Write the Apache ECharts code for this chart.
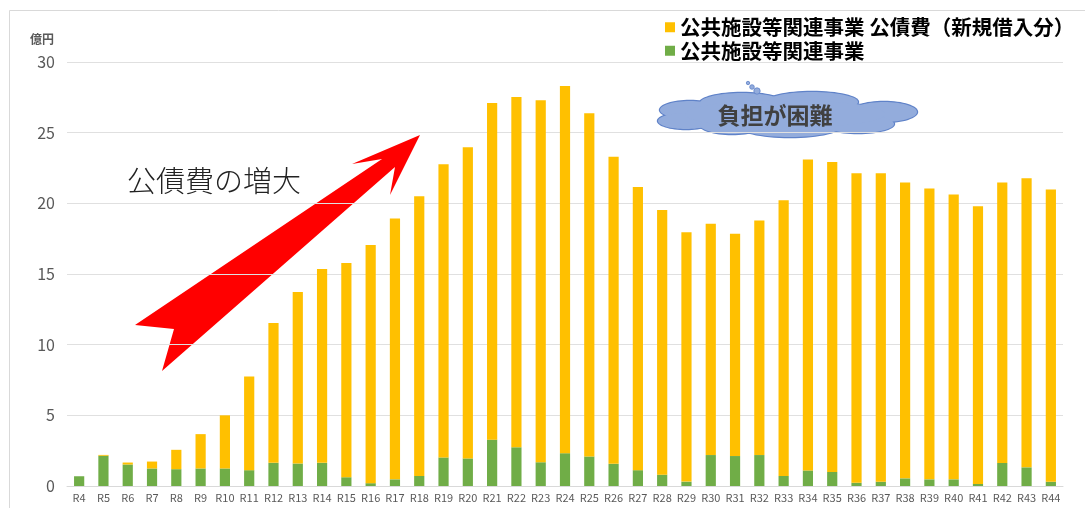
<!DOCTYPE html>
<html>
<head>
<meta charset="utf-8">
<script src="https://cdn.jsdelivr.net/npm/echarts@6/dist/echarts.min.js"></script>
<style>
html,body{margin:0;padding:0;background:#fff;}
#c{width:1085px;height:508px;}
</style>
</head>
<body>
<div id="c"></div>
<script>
const categories = ['R4','R5','R6','R7','R8','R9','R10','R11','R12','R13','R14','R15','R16','R17','R18','R19','R20','R21','R22','R23','R24','R25','R26','R27','R28','R29','R30','R31','R32','R33','R34','R35','R36','R37','R38','R39','R40','R41','R42','R43','R44'];
const greenName = '公共施設等関連事業';
const yellowName = '公共施設等関連事業 公債費（新規借入分）';
const greenValues = [0.69,2.14,1.52,1.24,1.19,1.24,1.24,1.12,1.64,1.59,1.64,0.62,0.20,0.47,0.71,2.02,1.95,3.28,2.74,1.68,2.32,2.09,1.57,1.12,0.80,0.31,2.19,2.12,2.19,0.71,1.10,0.99,0.23,0.30,0.54,0.47,0.47,0.14,1.63,1.32,0.30];
const yellowValues = [0,0.06,0.14,0.49,1.37,2.43,3.76,6.63,9.89,12.14,13.72,15.16,16.86,18.45,19.79,20.75,22.02,23.82,24.79,25.62,25.98,24.28,21.73,20.04,18.73,17.64,16.37,15.72,16.59,19.51,22.00,21.94,21.90,21.83,20.93,20.58,20.16,19.66,19.84,20.45,20.67];
const yTicks = [0,5,10,15,20,25,30];
const unitLabel = '億円';
const arrowText = '公債費の増大';
const cloudText = '負担が困難';

const FONT = "'Noto Sans CJK JP', sans-serif";
const chart = echarts.init(document.getElementById('c'), null, {renderer:'canvas'});

const cloudEllipses = [
  [690,110,30,9],[686,121,28,8],[742,103,42,10],[812,102,46,10],[884,112,33,10],
  [790,126,52,11],[732,125,32,9],[858,124,36,9],[785,114,100,14]
];
const cloudChildren = [];
cloudEllipses.forEach(e=>cloudChildren.push({type:'ellipse',shape:{cx:e[0],cy:e[1],rx:e[2]+1.2,ry:e[3]+1.2},style:{fill:'#5f82c8'}}));
cloudEllipses.forEach(e=>cloudChildren.push({type:'ellipse',shape:{cx:e[0],cy:e[1],rx:e[2],ry:e[3]},style:{fill:'#93acdc'}}));
[[748,83,1.7],[752,87,2.3],[757,91,3.2]].forEach(c=>cloudChildren.push({type:'circle',shape:{cx:c[0],cy:c[1],r:c[2]},style:{fill:'#93acdc',stroke:'#5f82c8',lineWidth:0.8}}));

chart.setOption({
  animation:false,
  backgroundColor:'#fff',
  textStyle:{fontFamily:FONT},
  grid:{left:67,right:22,top:62,bottom:22},
  legend:{
    orient:'vertical', left:660, top:12, itemWidth:10, itemHeight:10, itemGap:3,
    data:[yellowName, greenName],
    textStyle:{fontSize:20.5, fontWeight:'bold', color:'#000', fontFamily:FONT},
    icon:'rect'
  },
  xAxis:{
    type:'category', data:categories,
    axisLine:{lineStyle:{color:'#d9d9d9'}},
    axisTick:{show:false},
    axisLabel:{color:'#595959', fontSize:11, margin:6, interval:0}
  },
  yAxis:{
    type:'value', min:yTicks[0], max:yTicks[yTicks.length-1], interval:5,
    axisLine:{show:false}, axisTick:{show:false},
    splitLine:{lineStyle:{color:'#e0e0e0'}},
    axisLabel:{color:'#595959', fontSize:16, margin:12}
  },
  series:[
    {name:greenName, type:'bar', stack:'t', data:greenValues, barWidth:'42%', itemStyle:{color:'#70AD47'}},
    {name:yellowName, type:'bar', stack:'t', data:yellowValues, barWidth:'42%', itemStyle:{color:'#FFC000'}}
  ],
  graphic:[
    {type:'rect', shape:{x:9.5,y:10.5,width:1200,height:600}, style:{fill:'none',stroke:'#d9d9d9',lineWidth:1}, silent:true},
    {type:'text', left:30, top:33, style:{text:unitLabel, fontSize:12, fontWeight:'bold', fill:'#595959', fontFamily:FONT}},
    {type:'polygon', shape:{points:[[135,325],[174,329],[162,371],[395,167],[390,195],[420,135],[352,164],[382,159]]}, style:{fill:'#ff0000'}},
    {type:'text', left:127, top:166, style:{text:arrowText, fontSize:29, fontWeight:300, fill:'#222', fontFamily:FONT}},
    {type:'group', children:cloudChildren},
    {type:'text', x:775, y:115, style:{text:cloudText, fontSize:23, fontWeight:'bold', fill:'#404040', align:'center', verticalAlign:'middle', fontFamily:FONT}}
  ]
});
</script>
</body>
</html>
